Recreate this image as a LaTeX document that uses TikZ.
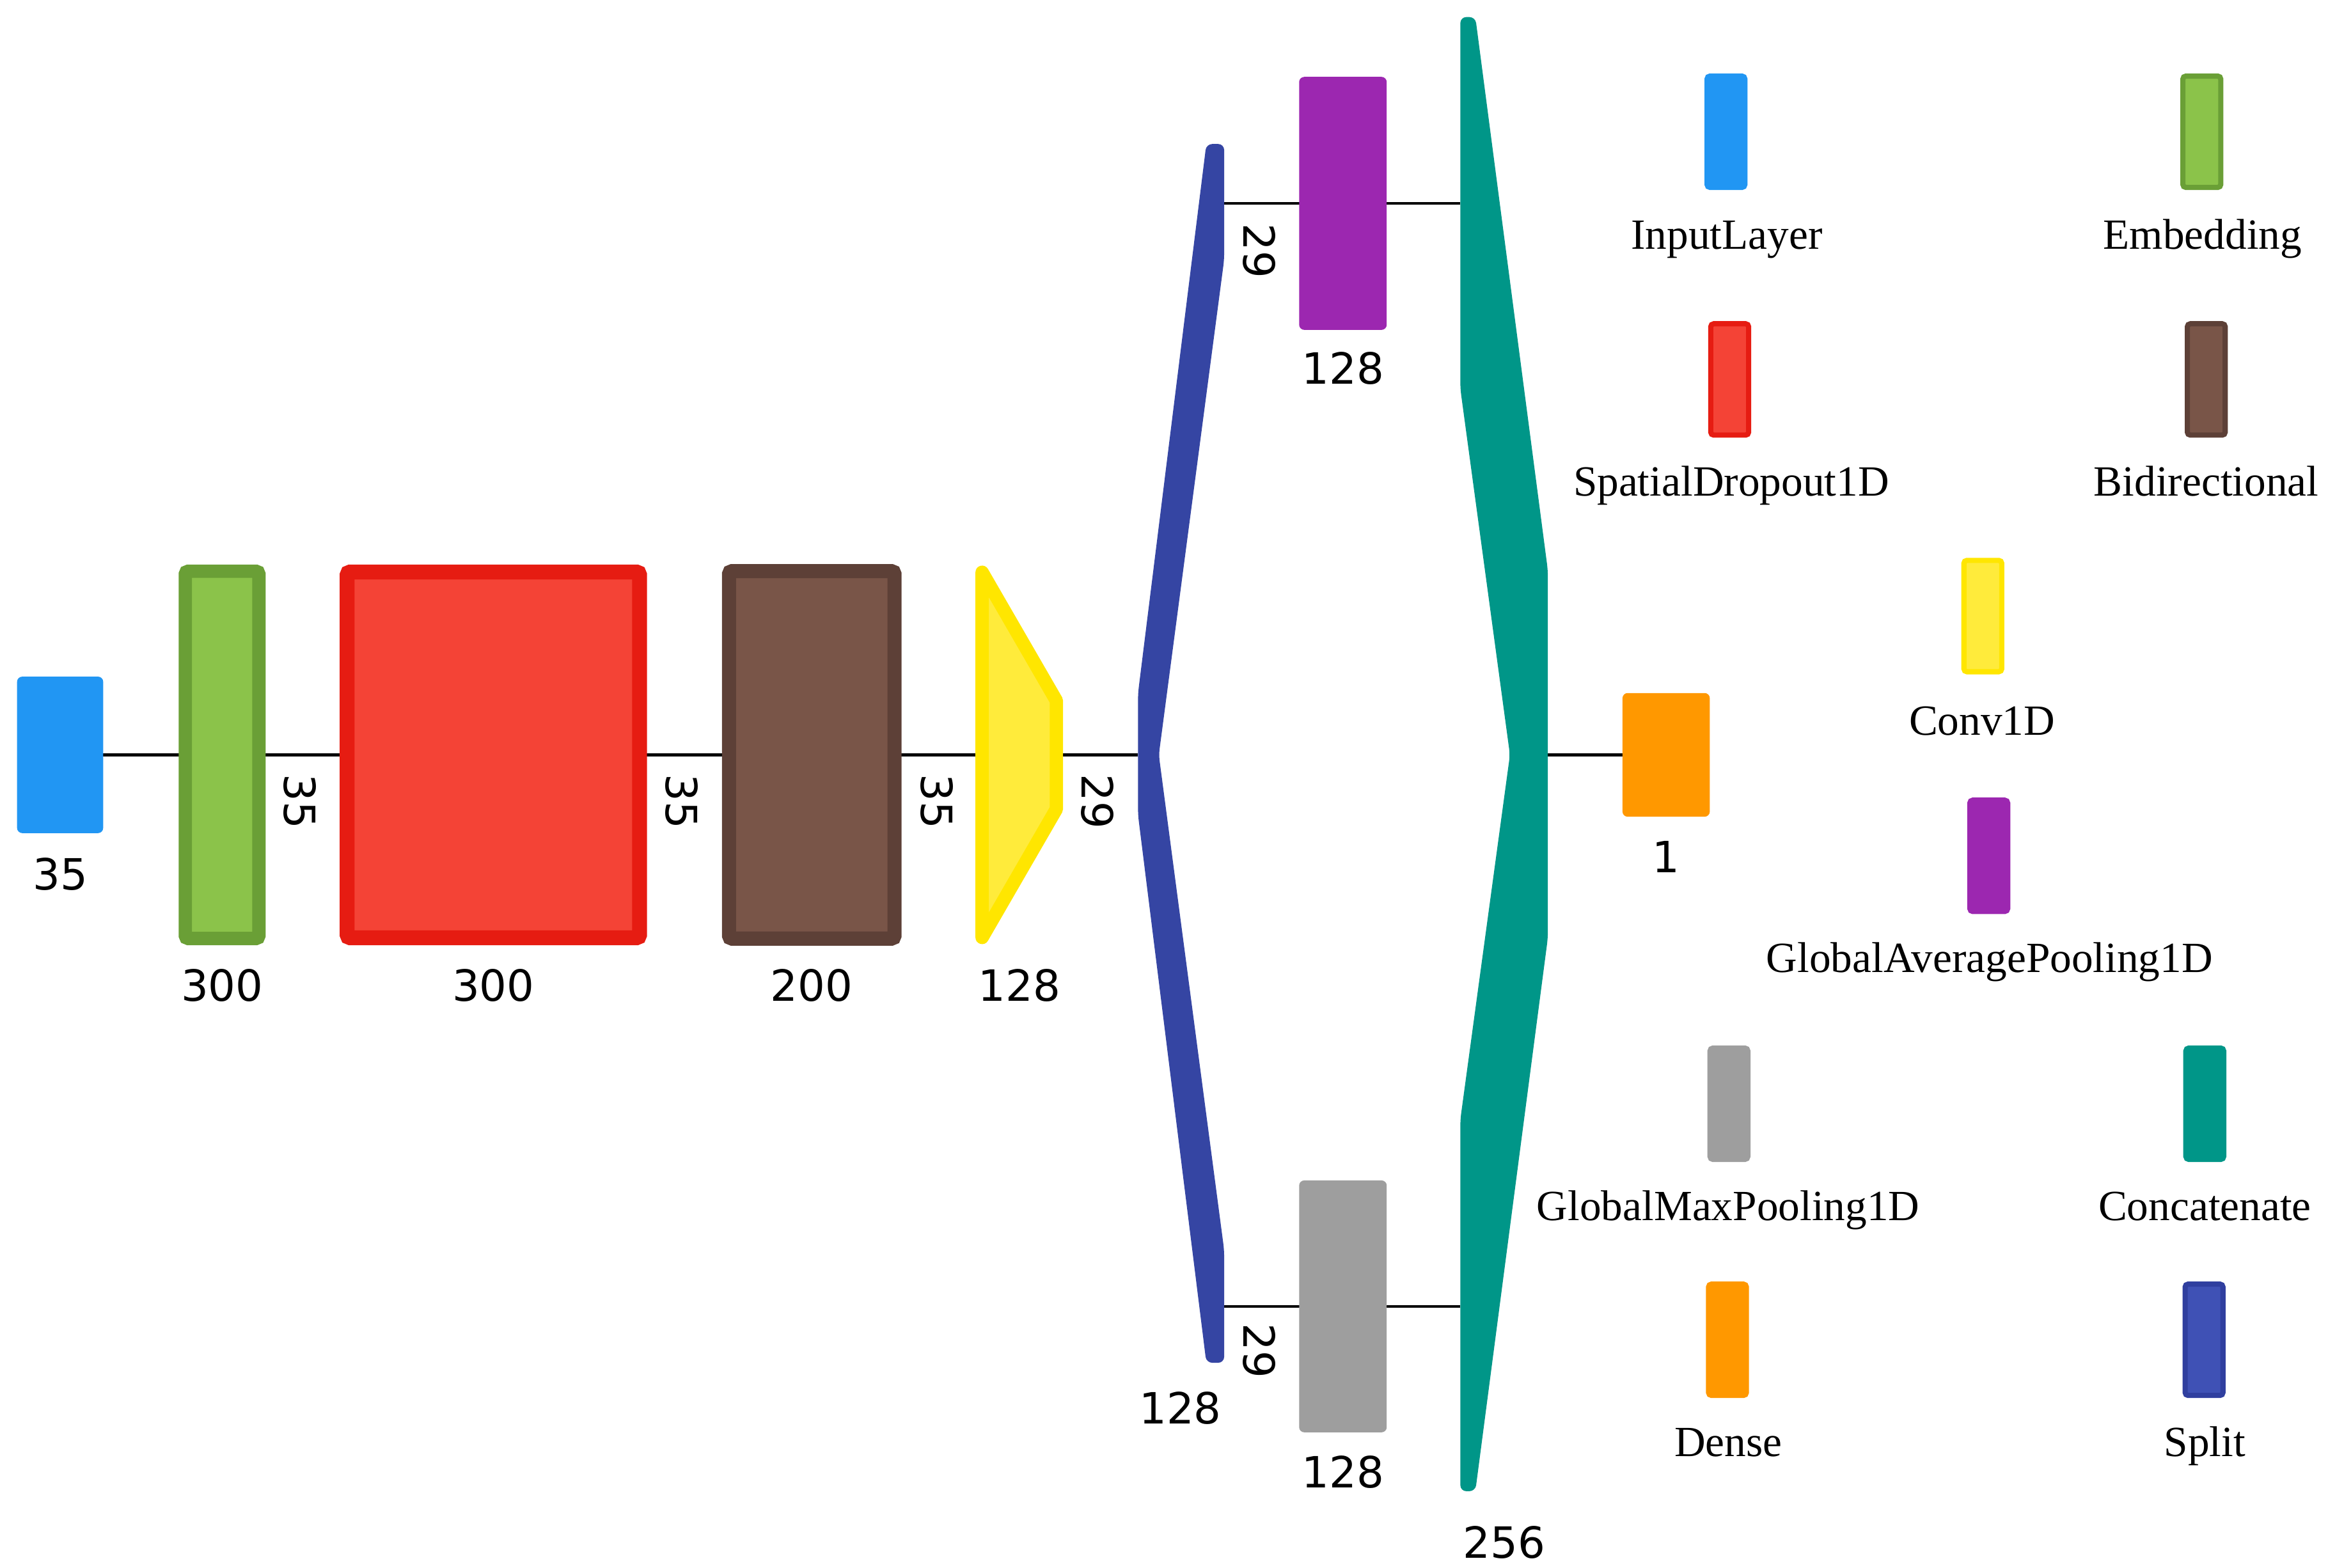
\documentclass[tikz,border=0pt]{standalone}
\usepackage{fontspec}
\setmainfont{Liberation Serif}
\newfontfamily\numfont{DejaVu Sans}
\usetikzlibrary{backgrounds}
\definecolor{inpC}{HTML}{2196F3}
\definecolor{embF}{HTML}{8BC34A}
\definecolor{embD}{HTML}{6A9F36}
\definecolor{spdF}{HTML}{F44336}
\definecolor{spdD}{HTML}{E61C12}
\definecolor{bidF}{HTML}{795548}
\definecolor{bidD}{HTML}{5D4037}
\definecolor{convF}{HTML}{FFEB3B}
\definecolor{convD}{HTML}{FFE600}
\definecolor{splitC}{HTML}{3545A3}
\definecolor{splitF}{HTML}{3F51B5}
\definecolor{splitD}{HTML}{303F9F}
\definecolor{gapC}{HTML}{9C27B0}
\definecolor{gmpC}{HTML}{9E9E9E}
\definecolor{catC}{HTML}{009688}
\definecolor{dnsC}{HTML}{FF9800}
\begin{document}
\begin{tikzpicture}[x=1pt,y=-1pt,
  layer/.style={rectangle, inner sep=0pt, outer sep=0pt, rounded corners=3pt},
  conn/.style={line width=2pt, black},
  numlab/.style={font=\numfont\fontsize{29}{29}\selectfont, inner sep=0pt},
  rotlab/.style={numlab, rotate=-90},
  legsw/.style={rectangle, inner sep=0pt, outer sep=0pt, rounded corners=2pt, line width=3.5pt, minimum width=25.5pt, minimum height=75pt},
  leglab/.style={font=\fontsize{29}{29}\selectfont, inner sep=0pt, anchor=base}]
\useasboundingbox (0,0) rectangle (1568,1056);

% main layers
\node[layer, fill=inpC, draw=inpC, line width=1pt, minimum width=57pt, minimum height=104.4pt] (inp) at (40.5,508.5) {};
\node[layer, fill=embF, draw=embD, line width=9pt, rounded corners=2pt, minimum width=49.6pt, minimum height=247.4pt] (emb) at (149.6,508.5) {};
\node[layer, fill=spdF, draw=spdD, line width=10pt, rounded corners=2pt, minimum width=197pt, minimum height=246.4pt] (spd) at (332.3,508.5) {};
\node[layer, fill=bidF, draw=bidD, line width=9.5pt, rounded corners=2pt, minimum width=111.5pt, minimum height=247.5pt] (bid) at (546.75,508.5) {};

% Conv1D trapezoid
\coordinate (conv) at (686.5,508.5);
\coordinate (convin) at (657,508.5);
\coordinate (convout) at (716,508.5);
\draw[fill=convF, draw=convD, line width=9pt, line join=round]
  (661.5,385.5) -- (711.5,472) -- (711.5,545) -- (661.5,631.5) -- cycle;

% Split
\coordinate (splitin) at (766.5,508.5);
\coordinate (splittop) at (824.5,137);
\coordinate (splitbot) at (824.5,880);
\fill[splitC, rounded corners=4pt]
  (812.5,97) -- (824.5,97) -- (824.5,175) -- (780.5,508.5) -- (824.5,842)
  -- (824.5,918) -- (812.5,918) -- (766.5,549) -- (766.5,467) -- cycle;

% pooling layers
\node[layer, fill=gapC, draw=gapC, line width=1pt, minimum width=58pt, minimum height=169.4pt] (gap) at (904.5,137) {};
\node[layer, fill=gmpC, draw=gmpC, line width=1pt, minimum width=58pt, minimum height=168.7pt] (gmp) at (904.5,880) {};

% Concatenate
\coordinate (cattop) at (983.6,137);
\coordinate (catbot) at (983.6,880);
\coordinate (catout) at (1042.5,508.5);
\fill[catC, rounded corners=4pt]
  (983.6,11.5) -- (993.7,11.5) -- (1042.5,384) -- (1042.5,632) -- (993.7,1004.5)
  -- (983.6,1004.5) -- (983.6,754) -- (1017,508.5) -- (983.6,262) -- cycle;

% Dense
\node[layer, fill=dnsC, draw=dnsC, line width=1pt, minimum width=57.8pt, minimum height=82.3pt] (dns) at (1122.2,508.5) {};

% connectors
\begin{scope}[on background layer]
\draw[conn] (inp) -- (emb);
\draw[conn] (emb) -- (spd);
\draw[conn] (spd) -- (bid);
\draw[conn] (bid) -- (convin);
\draw[conn] (convout) -- (splitin);
\draw[conn] (splittop) -- (gap);
\draw[conn] (gap) -- (cattop);
\draw[conn] (splitbot) -- (gmp);
\draw[conn] (gmp) -- (catbot);
\draw[conn] (catout) -- (dns);
\end{scope}

% size labels
\node[numlab] (l-inp) at (40.5,588.7) {35};
\node[numlab] (l-emb) at (149.6,664) {300};
\node[numlab] (l-spd) at (332.3,664) {300};
\node[numlab] (l-bid) at (546.7,664) {200};
\node[numlab] (l-conv) at (686.5,664) {128};
\node[numlab] (l-split) at (795,948.5) {128};
\node[numlab] (l-gap) at (904.5,248) {128};
\node[numlab] (l-gmp) at (904.5,991.7) {128};
\node[numlab] (l-cat) at (1013,1039) {256};
\node[numlab] (l-dns) at (1122,577) {1};

\node[rotlab] (r1) at (202,540) {35};
\node[rotlab] (r2) at (459,540) {35};
\node[rotlab] (r3) at (631,540) {35};
\node[rotlab] (r4) at (739,540) {29};
\node[rotlab] (r5) at (848,169) {29};
\node[rotlab] (r6) at (848,910) {29};

% legend
\node[legsw, fill=inpC, draw=inpC] (s-inp) at (1162.5,88.75) {};
\node[leglab] (t-inp) at (1163,168) {InputLayer};
\node[legsw, fill=embF, draw=embD] (s-emb) at (1483,88.75) {};
\node[leglab] (t-emb) at (1483.5,168) {Embedding};
\node[legsw, fill=spdF, draw=spdD] (s-spd) at (1165,255.6) {};
\node[leglab] (t-spd) at (1166,334) {SpatialDropout1D};
\node[legsw, fill=bidF, draw=bidD] (s-bid) at (1486,255.6) {};
\node[leglab] (t-bid) at (1486,334) {Bidirectional};
\node[legsw, fill=convF, draw=convD] (s-conv) at (1335.5,415) {};
\node[leglab] (t-conv) at (1335,495) {Conv1D};
\node[legsw, fill=gapC, draw=gapC] (s-gap) at (1339.5,576.5) {};
\node[leglab] (t-gap) at (1340,655) {GlobalAveragePooling1D};
\node[legsw, fill=gmpC, draw=gmpC] (s-gmp) at (1164.5,743.5) {};
\node[leglab] (t-gmp) at (1164,822) {GlobalMaxPooling1D};
\node[legsw, fill=catC, draw=catC] (s-cat) at (1485,743.5) {};
\node[leglab] (t-cat) at (1485,822) {Concatenate};
\node[legsw, fill=dnsC, draw=dnsC] (s-dns) at (1163.5,902.5) {};
\node[leglab] (t-dns) at (1164,981) {Dense};
\node[legsw, fill=splitF, draw=splitD] (s-split) at (1484.5,902.5) {};
\node[leglab] (t-split) at (1485,981) {Split};
\end{tikzpicture}
\end{document}
